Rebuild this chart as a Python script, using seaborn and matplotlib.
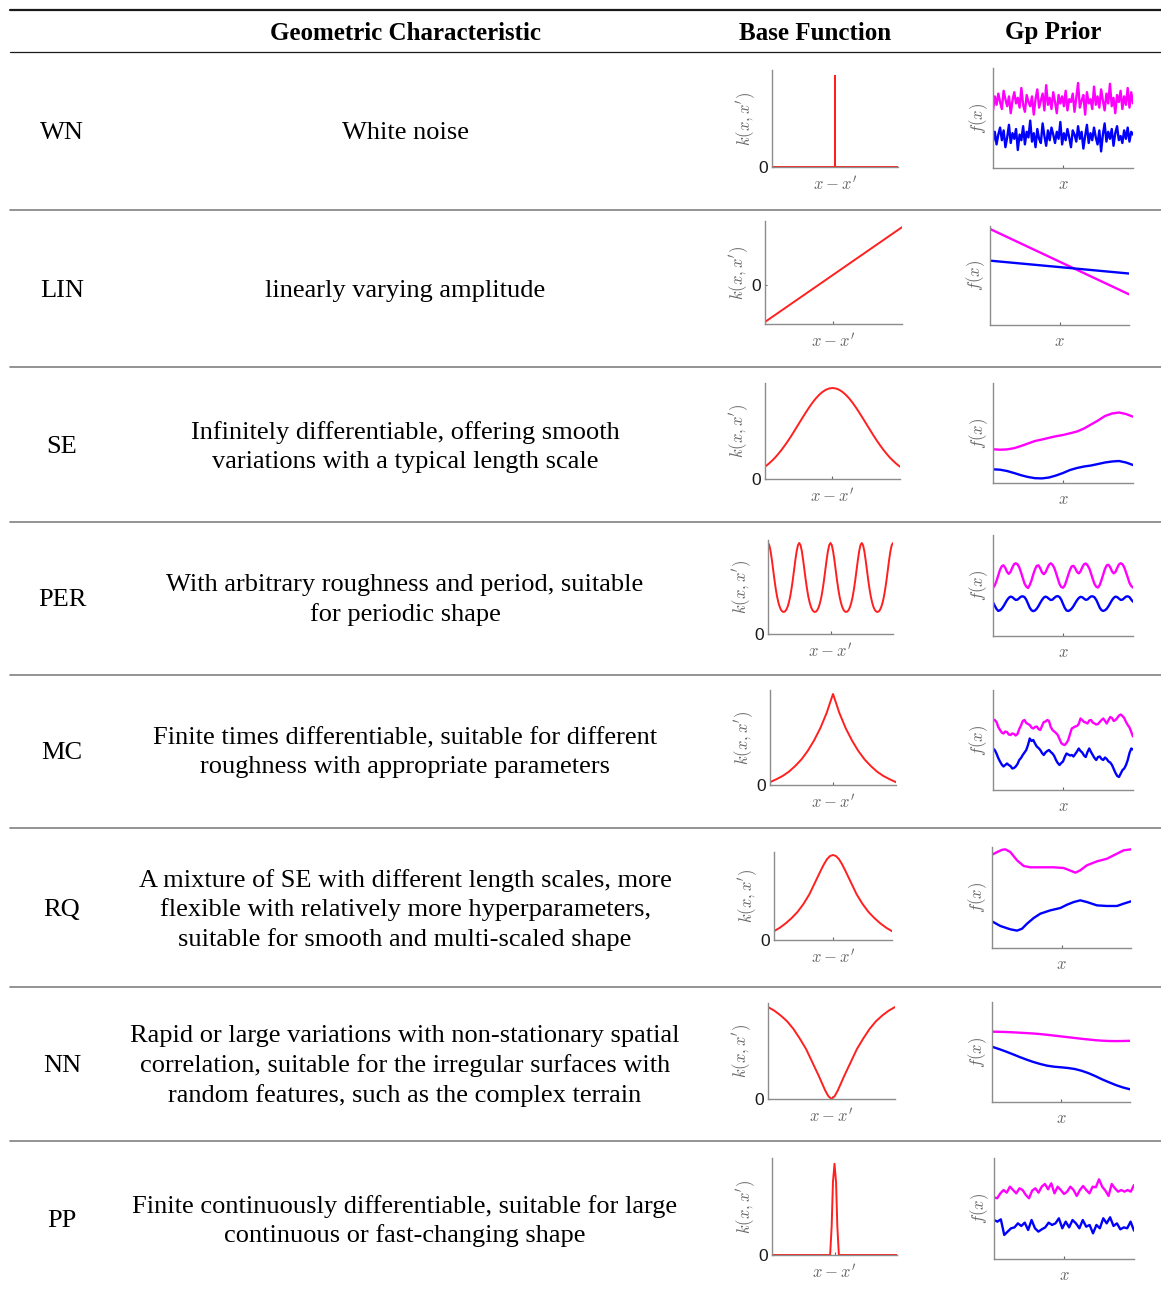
import numpy as np
import matplotlib
matplotlib.use("Agg")
import matplotlib.pyplot as plt
from matplotlib.lines import Line2D
import seaborn as sns

# ---------------------------------------------------------------- table text
headers = ["Geometric Characteristic", "Base Function", "Gp Prior"]
row_codes = ["WN", "LIN", "SE", "PER", "MC", "RQ", "NN", "PP"]
row_texts = [
    "White noise",
    "linearly varying amplitude",
    "Infinitely differentiable, offering smooth\nvariations with a typical length scale",
    "With arbitrary roughness and period, suitable\nfor periodic shape",
    "Finite times differentiable, suitable for different\nroughness with appropriate parameters",
    "A mixture of SE with different length scales, more\nflexible with relatively more hyperparameters,\nsuitable for smooth and multi-scaled shape",
    "Rapid or large variations with non-stationary spatial\ncorrelation, suitable for the irregular surfaces with\nrandom features, such as the complex terrain",
    "Finite continuously differentiable, suitable for large\ncontinuous or fast-changing shape",
]

# ---------------------------------------------------------------- base functions k(x - x')
wn_kx = [-1.0, 0.0, 0.0, 0.0, 1.0]
wn_k = [0.0, 0.0, 0.94, 0.0, 0.0]

lin_kx = [-1.0, 1.0]
lin_k = [-0.36, 0.56]

se_k = [0.128, 0.156, 0.188, 0.223, 0.264, 0.308, 0.356, 0.407, 0.461, 0.518, 0.575,
        0.632, 0.688, 0.742, 0.792, 0.837, 0.875, 0.906, 0.929, 0.943, 0.948,
        0.943, 0.929, 0.906, 0.875, 0.837, 0.792, 0.742, 0.688, 0.632, 0.575,
        0.518, 0.461, 0.407, 0.356, 0.308, 0.264, 0.223, 0.188, 0.156, 0.128]

per_k = [0.968, 0.945, 0.880, 0.786, 0.679, 0.572, 0.476, 0.396, 0.334, 0.288, 0.257, 0.240,
         0.234, 0.240, 0.257, 0.288, 0.334, 0.396, 0.476, 0.572, 0.679, 0.786, 0.880, 0.945,
         0.968, 0.945, 0.880, 0.786, 0.679, 0.572, 0.476, 0.396, 0.334, 0.288, 0.257, 0.240,
         0.234, 0.240, 0.257, 0.288, 0.334, 0.396, 0.476, 0.572, 0.679, 0.786, 0.880, 0.945,
         0.968, 0.945, 0.880, 0.786, 0.679, 0.572, 0.476, 0.396, 0.334, 0.288, 0.257, 0.240,
         0.234, 0.240, 0.257, 0.288, 0.334, 0.396, 0.476, 0.572, 0.679, 0.786, 0.880, 0.945,
         0.968, 0.945, 0.880, 0.786, 0.679, 0.572, 0.476, 0.396, 0.334, 0.288, 0.257, 0.240,
         0.234, 0.240, 0.257, 0.288, 0.334, 0.396, 0.476, 0.572, 0.679, 0.786, 0.880, 0.945,
         0.968]

mc_kx = [-1.0, -0.9, -0.8, -0.7, -0.6, -0.5, -0.4, -0.3, -0.2, -0.1, -0.05, 0.0,
         0.05, 0.1, 0.2, 0.3, 0.4, 0.5, 0.6, 0.7, 0.8, 0.9, 1.0]
mc_k = [0.03, 0.06, 0.095, 0.14, 0.20, 0.27, 0.36, 0.47, 0.60, 0.76, 0.86, 0.958,
        0.86, 0.76, 0.60, 0.47, 0.36, 0.27, 0.20, 0.14, 0.095, 0.06, 0.03]

rq_kx = [-1.0, -0.9, -0.8, -0.7, -0.6, -0.5, -0.4, -0.3, -0.2, -0.15, -0.1, -0.05, 0.0,
         0.05, 0.1, 0.15, 0.2, 0.3, 0.4, 0.5, 0.6, 0.7, 0.8, 0.9, 1.0]
rq_k = [0.10, 0.14, 0.19, 0.25, 0.32, 0.41, 0.52, 0.66, 0.80, 0.865, 0.92, 0.954, 0.966,
        0.954, 0.92, 0.865, 0.80, 0.66, 0.52, 0.41, 0.32, 0.25, 0.19, 0.14, 0.10]

nn_kx = [-1.0, -0.9, -0.8, -0.7, -0.6, -0.5, -0.4, -0.3, -0.2, -0.1, -0.05, 0.0,
         0.05, 0.1, 0.2, 0.3, 0.4, 0.5, 0.6, 0.7, 0.8, 0.9, 1.0]
nn_k = [0.958, 0.92, 0.87, 0.81, 0.73, 0.63, 0.52, 0.38, 0.24, 0.09, 0.03, 0.0,
        0.03, 0.09, 0.24, 0.38, 0.52, 0.63, 0.73, 0.81, 0.87, 0.92, 0.958]

pp_kx = [-1.0, -0.07, -0.045, -0.025, 0.0, 0.025, 0.045, 0.07, 1.0]
pp_k = [0.0, 0.0, 0.30, 0.75, 0.94, 0.75, 0.30, 0.0, 0.0]

# ---------------------------------------------------------------- GP prior samples f(x)
wn_f1 = [0.576, 0.716, 0.632, 0.744, 0.660, 0.590, 0.772, 0.688, 0.618, 0.716, 0.548, 0.674, 0.758, 0.646, 0.702, 0.604, 0.800, 0.632, 0.562, 0.730,
         0.660, 0.618, 0.716, 0.534, 0.688, 0.786, 0.604, 0.674, 0.744, 0.576, 0.828, 0.632, 0.702, 0.590, 0.758, 0.660, 0.548, 0.730, 0.646, 0.716,
         0.618, 0.772, 0.576, 0.688, 0.660, 0.744, 0.562, 0.702, 0.850, 0.604, 0.674, 0.730, 0.534, 0.758, 0.646, 0.688, 0.590, 0.814, 0.632, 0.716,
         0.604, 0.786, 0.674, 0.576, 0.744, 0.646, 0.842, 0.618, 0.702, 0.548, 0.730, 0.660, 0.772, 0.590, 0.716, 0.632, 0.800, 0.604, 0.758, 0.646]
wn_f2 = [0.264, 0.362, 0.236, 0.334, 0.404, 0.278, 0.376, 0.208, 0.306, 0.432, 0.250, 0.348, 0.292, 0.390, 0.180, 0.334, 0.278, 0.418, 0.236, 0.362,
         0.306, 0.474, 0.264, 0.348, 0.208, 0.390, 0.292, 0.250, 0.446, 0.320, 0.222, 0.376, 0.278, 0.404, 0.334, 0.250, 0.362, 0.292, 0.460, 0.236,
         0.348, 0.278, 0.390, 0.306, 0.208, 0.376, 0.334, 0.264, 0.418, 0.292, 0.362, 0.194, 0.320, 0.432, 0.250, 0.348, 0.278, 0.404, 0.306, 0.236,
         0.376, 0.166, 0.334, 0.446, 0.264, 0.362, 0.292, 0.390, 0.222, 0.348, 0.418, 0.278, 0.320, 0.250, 0.376, 0.292, 0.404, 0.264, 0.362, 0.334]

lin_f1 = [0.97, 0.31]
lin_f2 = [0.65, 0.52]

se_f1 = [0.337, 0.333, 0.336, 0.348, 0.370, 0.395, 0.420, 0.435, 0.452, 0.468, 0.480,
         0.497, 0.515, 0.545, 0.585, 0.625, 0.670, 0.695, 0.705, 0.690, 0.663]
se_f2 = [0.137, 0.133, 0.120, 0.100, 0.078, 0.060, 0.048, 0.046, 0.055, 0.075, 0.100,
         0.130, 0.150, 0.165, 0.175, 0.190, 0.205, 0.215, 0.220, 0.205, 0.180]

per_f1 = [0.478, 0.50, 0.545, 0.60, 0.655, 0.69, 0.70, 0.675, 0.635, 0.615, 0.635, 0.675, 0.71, 0.72, 0.71, 0.68, 0.63, 0.575, 0.52, 0.49,
          0.475, 0.505, 0.55, 0.61, 0.66, 0.695, 0.70, 0.67, 0.63, 0.612, 0.63, 0.67, 0.705, 0.72, 0.705, 0.675, 0.625, 0.57, 0.515, 0.485,
          0.478, 0.50, 0.55, 0.605, 0.655, 0.69, 0.695, 0.67, 0.635, 0.62, 0.64, 0.68, 0.71, 0.718, 0.70, 0.67, 0.62, 0.565, 0.515, 0.488,
          0.48, 0.505, 0.555, 0.61, 0.665, 0.70, 0.705, 0.68, 0.64, 0.62, 0.635, 0.675, 0.71, 0.72, 0.71, 0.68, 0.63, 0.58, 0.525, 0.495,
          0.48]
per_f2 = [0.333, 0.30, 0.268,
          0.248, 0.255, 0.27, 0.295, 0.325, 0.355, 0.378, 0.39, 0.385, 0.37, 0.357, 0.36, 0.375, 0.39, 0.393, 0.385, 0.36, 0.32, 0.28, 0.255,
          0.246, 0.253, 0.27, 0.297, 0.328, 0.357, 0.38, 0.39, 0.383, 0.368, 0.356, 0.36, 0.377, 0.391, 0.395, 0.386, 0.36, 0.318, 0.278, 0.253,
          0.247, 0.256, 0.272, 0.296, 0.326, 0.354, 0.376, 0.388, 0.384, 0.37, 0.358, 0.362, 0.378, 0.392, 0.393, 0.383, 0.358, 0.32, 0.28, 0.256,
          0.248, 0.255, 0.27, 0.295, 0.325, 0.355, 0.378, 0.39, 0.385, 0.37, 0.357, 0.36, 0.375, 0.39, 0.393, 0.385, 0.36, 0.34]

mc_f1 = [0.705, 0.70, 0.68, 0.63, 0.60, 0.575, 0.565, 0.585, 0.58, 0.555, 0.55, 0.565, 0.56, 0.545, 0.56, 0.61,
         0.645, 0.69, 0.70, 0.67, 0.66, 0.65, 0.625, 0.615, 0.63, 0.635, 0.61, 0.60, 0.64, 0.68, 0.685, 0.70,
         0.69, 0.63, 0.60, 0.585, 0.57, 0.55, 0.51, 0.47, 0.455, 0.45, 0.47, 0.50, 0.56, 0.615, 0.625, 0.635,
         0.64, 0.66, 0.715, 0.70, 0.68, 0.675, 0.665, 0.695, 0.70, 0.675, 0.665, 0.655, 0.66, 0.68, 0.70, 0.715,
         0.69, 0.665, 0.70, 0.73, 0.72, 0.69, 0.70, 0.72, 0.745, 0.755, 0.74, 0.72, 0.68, 0.65, 0.625, 0.58, 0.535]
mc_f2 = [0.415, 0.40, 0.365, 0.32, 0.285, 0.255, 0.235, 0.25, 0.265, 0.25, 0.24, 0.215, 0.22, 0.235, 0.26, 0.30,
         0.32, 0.35, 0.375, 0.40, 0.45, 0.515, 0.49, 0.50, 0.465, 0.435, 0.42, 0.40, 0.37, 0.35, 0.375, 0.39,
         0.40, 0.38, 0.365, 0.34, 0.30, 0.27, 0.25, 0.27, 0.285, 0.33, 0.365, 0.355, 0.345, 0.35, 0.335, 0.36,
         0.385, 0.415, 0.39, 0.375, 0.345, 0.33, 0.38, 0.415, 0.38, 0.35, 0.32, 0.30, 0.33, 0.335, 0.31, 0.30,
         0.325, 0.31, 0.285, 0.275, 0.25, 0.21, 0.17, 0.14, 0.13, 0.165, 0.20, 0.215, 0.25, 0.30, 0.37, 0.415, 0.405]

rq_x1 = [0.0, 0.048, 0.072, 0.096, 0.132, 0.18, 0.228, 0.276, 0.348, 0.444, 0.516, 0.564, 0.60, 0.635, 0.683, 0.755, 0.827, 0.899, 0.947, 1.0]
rq_f1 = [0.924, 0.957, 0.972, 0.977, 0.95, 0.868, 0.812, 0.799, 0.799, 0.799, 0.792, 0.766, 0.746, 0.769, 0.819, 0.858, 0.884, 0.934, 0.967, 0.977]
rq_x2 = [0.0, 0.06, 0.132, 0.18, 0.216, 0.252, 0.30, 0.348, 0.42, 0.492, 0.54, 0.588, 0.635, 0.683, 0.755, 0.827, 0.899, 0.947, 1.0]
rq_f2 = [0.264, 0.218, 0.185, 0.172, 0.191, 0.241, 0.297, 0.340, 0.373, 0.396, 0.429, 0.455, 0.472, 0.455, 0.422, 0.416, 0.416, 0.439, 0.462]

nn_f1 = [0.703, 0.702, 0.700, 0.697, 0.693, 0.689, 0.685, 0.679, 0.672, 0.664, 0.656,
         0.648, 0.640, 0.632, 0.625, 0.618, 0.613, 0.610, 0.609, 0.610, 0.612]
nn_f2 = [0.553, 0.53, 0.505, 0.478, 0.45, 0.424, 0.40, 0.38, 0.363, 0.353, 0.347,
         0.34, 0.33, 0.312, 0.288, 0.258, 0.225, 0.196, 0.168, 0.145, 0.127]

pp_f1 = [0.611, 0.601, 0.650, 0.683, 0.657, 0.716, 0.683, 0.650, 0.700, 0.683, 0.634, 0.601, 0.677, 0.700, 0.657,
         0.716, 0.743, 0.690, 0.749, 0.650, 0.716, 0.683, 0.644, 0.667, 0.716, 0.683, 0.624, 0.683, 0.723, 0.683,
         0.650, 0.716, 0.710, 0.789, 0.716, 0.677, 0.624, 0.743, 0.700, 0.667, 0.683, 0.667, 0.683, 0.667, 0.733]
pp_f2 = [0.386, 0.370, 0.393, 0.238, 0.271, 0.304, 0.313, 0.353, 0.327, 0.360, 0.287, 0.386, 0.304, 0.271, 0.294,
         0.313, 0.360, 0.337, 0.353, 0.403, 0.304, 0.370, 0.313, 0.386, 0.353, 0.304, 0.386, 0.320, 0.337, 0.254,
         0.337, 0.304, 0.403, 0.353, 0.413, 0.327, 0.353, 0.294, 0.313, 0.304, 0.370, 0.281]

# ---------------------------------------------------------------- layout (pixels)
W, H = 1161, 1289
row_y = [133, 291, 447, 600, 753, 910, 1066, 1221]
separators = [210, 367, 522, 675, 828, 987, 1141]
base_boxes = [(772, 898, 70, 167), (765, 902, 221, 324), (765, 900, 383, 479), (768, 893, 540, 634),
              (770, 896, 690, 785), (774, 892, 852, 940), (768, 895, 1003, 1099), (772, 897, 1158, 1255)]
prior_boxes = [(993, 1133, 68, 168), (990, 1129, 226, 325), (993, 1133, 383, 483), (993, 1133, 535, 636),
               (993, 1133, 690, 790), (992, 1131, 847, 948), (992, 1130, 1002, 1102), (994, 1134, 1158, 1259)]

sns.set_theme(style="white")
plt.rcParams["font.family"] = ["Liberation Serif", "DejaVu Serif"]
plt.rcParams["mathtext.fontset"] = "cm"
plt.rcParams["text.color"] = "black"

fig = plt.figure(figsize=(W / 100, H / 100), dpi=100)
fig.patch.set_facecolor("white")


def fx(px):
    return px / W


def fy(py):
    return 1 - py / H


def hline(py, color, lw):
    fig.add_artist(Line2D([fx(10), fx(W)], [fy(py), fy(py)], color=color, linewidth=lw,
                          transform=fig.transFigure))


def add_box(box):
    l, r, t, b = box
    return fig.add_axes([fx(l), fy(b), (r - l) / W, (b - t) / H])


def style_axes(ax, xlim, ylim, ylabel, xlabel, zero_tick, ylabelpad):
    ax.set_xlim(*xlim)
    ax.set_ylim(*ylim)
    ax.set_facecolor("none")
    for s in ["top", "right"]:
        ax.spines[s].set_visible(False)
    for s in ["left", "bottom"]:
        ax.spines[s].set_color("#8c8c8c")
        ax.spines[s].set_linewidth(1.0)
    ax.set_xticks([(xlim[0] + xlim[1]) / 2])
    ax.set_xticklabels([])
    ax.tick_params(axis="x", direction="in", length=2, width=0.8, color="#666666", bottom=True)
    if zero_tick:
        ax.set_yticks([0])
        ax.set_yticklabels(["0"], fontfamily="Liberation Sans", fontsize=12.5, color="#1a1a1a")
        ax.tick_params(axis="y", direction="in", length=1.5, width=0.8, color="#666666", pad=3, left=True)
    else:
        ax.set_yticks([])
    ax.set_ylabel(ylabel, fontsize=12, color="#666666", labelpad=ylabelpad)
    ax.set_xlabel(xlabel, fontsize=12, color="#666666", labelpad=3)


# ---------------------------------------------------------------- rules and text
hline(9.5, "#1a1a1a", 1.6)
hline(52, "#1a1a1a", 0.9)
for sy in separators:
    hline(sy, "#808080", 1.2)

fig.text(fx(405), fy(33), headers[0], ha="center", va="center", fontsize=18, fontweight="bold")
fig.text(fx(815), fy(33), headers[1], ha="center", va="center", fontsize=18, fontweight="bold")
fig.text(fx(1053), fy(33), headers[2], ha="center", va="center", fontsize=18, fontweight="bold")

for yc, code, desc in zip(row_y, row_codes, row_texts):
    fig.text(fx(62), fy(yc), code, ha="center", va="center", fontsize=19)
    fig.text(fx(405), fy(yc), desc, ha="center", va="center", fontsize=19, linespacing=1.38)

# ---------------------------------------------------------------- base functions
RED = "#ff1f1f"
kernels = [
    (wn_kx, wn_k), (lin_kx, lin_k), (np.linspace(-1, 1, len(se_k)), se_k),
    (np.linspace(-1, 1, len(per_k)), per_k), (mc_kx, mc_k),
    (rq_kx, rq_k), (nn_kx, nn_k), (pp_kx, pp_k),
]
for i, (kx, kv) in enumerate(kernels):
    ax = add_box(base_boxes[i])
    sns.lineplot(x=np.asarray(kx, float), y=np.asarray(kv, float), ax=ax, color=RED, linewidth=1.4,
                 estimator=None, sort=False, legend=False)
    ylim = (-0.38, 0.62) if row_codes[i] == "LIN" else (0.0, 1.0)
    style_axes(ax, (-1, 1), ylim, r"$k(x,x')$", r"$x-x'$", True, 1)

# ---------------------------------------------------------------- GP prior samples
MAG, BLU = "#ff00ff", "#0000ff"
priors = [
    (None, wn_f1, None, wn_f2), (None, lin_f1, None, lin_f2), (None, se_f1, None, se_f2),
    (None, per_f1, None, per_f2), (None, mc_f1, None, mc_f2), (rq_x1, rq_f1, rq_x2, rq_f2),
    (None, nn_f1, None, nn_f2), (None, pp_f1, None, pp_f2),
]
for i, (x1, f1, x2, f2) in enumerate(priors):
    ax = add_box(prior_boxes[i])
    x1 = np.linspace(0, 1, len(f1)) if x1 is None else np.asarray(x1, float)
    x2 = np.linspace(0, 1, len(f2)) if x2 is None else np.asarray(x2, float)
    sns.lineplot(x=x1, y=np.asarray(f1, float), ax=ax, color=MAG, linewidth=1.7,
                 estimator=None, sort=False, legend=False)
    sns.lineplot(x=x2, y=np.asarray(f2, float), ax=ax, color=BLU, linewidth=1.7,
                 estimator=None, sort=False, legend=False)
    style_axes(ax, (0, 1), (0, 1), r"$f(x)$", r"$x$", False, 2)

fig.savefig("out.png", dpi=100, facecolor="white")
